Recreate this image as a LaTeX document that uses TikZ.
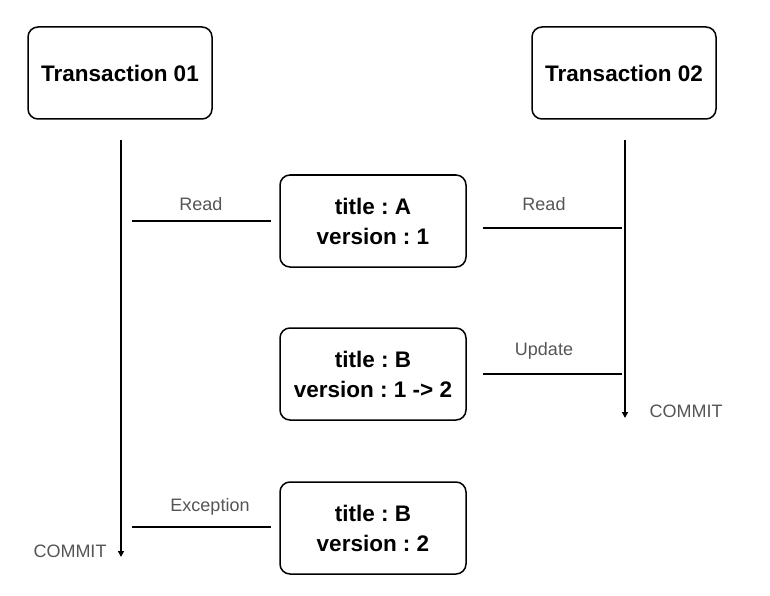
\documentclass[tikz,border=0pt]{standalone}
\usepackage{fontspec}
\setmainfont{Liberation Sans}
\usetikzlibrary{arrows.meta,positioning,calc}
\definecolor{labelgray}{HTML}{555555}
\frenchspacing
\tikzset{
 txbox/.style={draw,line width=1.5pt,rounded corners=10pt,align=center,
             minimum height=92pt,minimum width=184pt,
             font=\fontsize{22.5}{30}\selectfont\bfseries},
 rowbox/.style={draw,line width=1.5pt,rounded corners=10pt,align=center,
             minimum height=92pt,minimum width=186pt,
             font=\fontsize{22.5}{30}\selectfont\bfseries},
 lifeline/.style={-{Triangle[length=6pt,width=6pt]},line width=1.5pt},
 link/.style={line width=1.5pt},
 lbl/.style={text=labelgray,font=\fontsize{18}{20}\selectfont}
}
\begin{document}
\begin{tikzpicture}[x=1pt,y=-1pt]
\useasboundingbox (0,0) rectangle (770,596);
% transactions
\node[txbox] (tx1) at (120,73) {Transaction 01};
\node[txbox] (tx2) at (624,73) {Transaction 02};
% rows
\node[rowbox] (rowa) at (373,221) {title : A\\version : 1};
\node[rowbox] (rowb) at (373,374) {title : B\\version : 1 -> 2};
\node[rowbox] (rowc) at (373,528) {title : B\\version : 2};
% lifelines
\coordinate (tx1top) at (121,140);
\coordinate (tx1end) at (121,557);
\coordinate (tx2top) at (625,140);
\coordinate (tx2end) at (625,418);
\draw[lifeline] (tx1top) -- (tx1end);
\draw[lifeline] (tx2top) -- (tx2end);
% messages
\coordinate (readl) at (132,221);
\coordinate (readr) at (622,228);
\coordinate (upd) at (622,374);
\coordinate (exc) at (132,527);
\draw[link] (readl) -- ($(rowa.west |- readl)+(-8,0)$);
\draw[link] (readr) -- ($(rowa.east |- readr)+(16,0)$);
\draw[link] (upd) -- ($(rowb.east |- upd)+(16,0)$);
\draw[link] (exc) -- ($(rowc.west |- exc)+(-8,0)$);
\node[lbl] (readltxt) at (201,204) {Read};
\node[lbl] (readrtxt) at (544,204) {Read};
\node[lbl] (updtxt) at (544,351) {Update};
\node[lbl] (exctxt) at (210,507) {Exception};
\node[lbl] (commit2) at (686,411) {COMMIT};
\node[lbl] (commit1) at (70,551) {COMMIT};
\end{tikzpicture}
\end{document}
